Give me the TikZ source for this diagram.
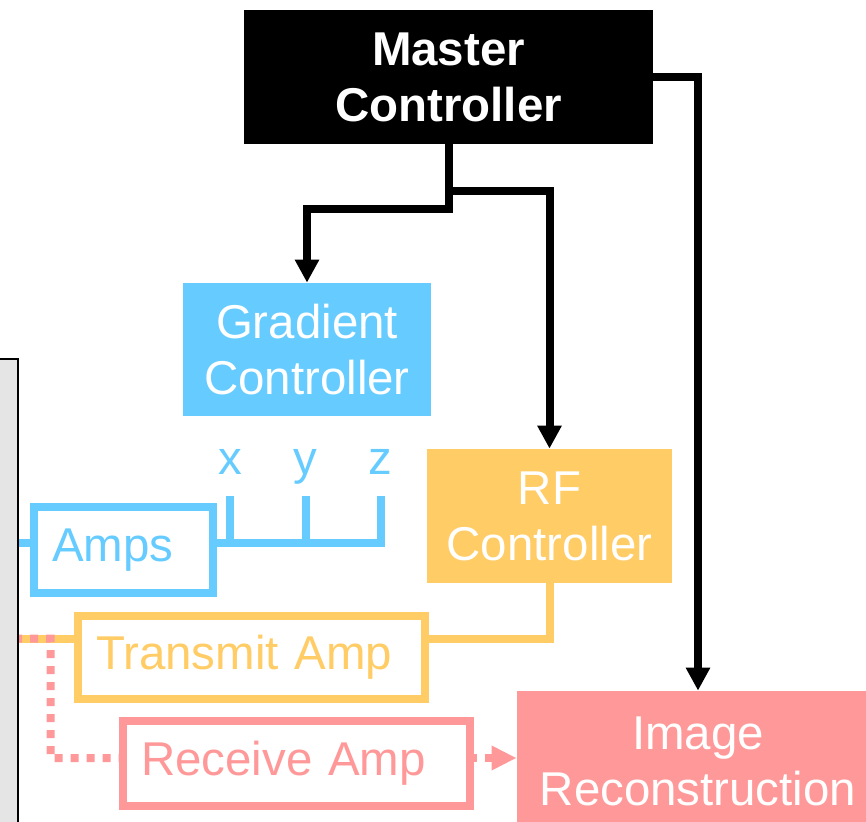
\documentclass[tikz,border=0pt]{standalone}
\usepackage{fontspec}
\setmainfont{Liberation Sans}
\definecolor{GradBlue}{RGB}{102, 204, 255}
\definecolor{RFOrange}{RGB}{255, 204, 102}
\definecolor{ReconPink}{RGB}{255, 153, 153}
\definecolor{ScannerGray}{RGB}{229, 229, 229}
\usetikzlibrary{arrows.meta, positioning, calc}

\begin{document}
\begin{tikzpicture}[
    font=\fontsize{27}{31.9}\selectfont,
    solidbox/.style={minimum width=#1, minimum height=2.68cm, inner sep=0pt, align=center, text=white},
    ampbox/.style={draw=#1, text=#1, fill=white, line width=0.16cm, align=left, inner xsep=0.36cm, inner ysep=0pt},
    axlabel/.style={text=GradBlue, inner sep=0pt, anchor=base},
    ctrlarrow/.style={draw=black, line width=0.16cm, -{Triangle[length=0.46cm, width=0.46cm]}},
    gradline/.style={draw=GradBlue, line width=0.16cm},
    txline/.style={draw=RFOrange, line width=0.16cm},
    rxline/.style={draw=ReconPink, line width=0.16cm, dash pattern=on 0.16cm off 0.16cm, dash phase=0.1cm}
  ]
  \useasboundingbox (0,0) rectangle (17.32,16.42);
  \clip (0,0) rectangle (17.32,16.42);

  % scanner wall on the left
  \node[draw=black, fill=ScannerGray, line width=0.04cm, minimum width=2cm, minimum height=10cm,
        inner sep=0pt, anchor=north east] (scanner) at (0.38, 9.26) {};

  % controllers
  \node[solidbox=8.18cm, fill=black, font=\fontsize{27}{31.9}\selectfont\bfseries] (master) at (8.97, 14.88) {Master\\Controller};
  \node[solidbox=4.96cm, minimum height=2.66cm, fill=GradBlue] (grad) at (6.14, 9.43) {Gradient\\Controller};
  \node[solidbox=4.9cm, fill=RFOrange] (rf) at (10.99, 6.10) {RF\\Controller};
  \node[solidbox=7.24cm, minimum height=2.8cm, fill=ReconPink] (recon) at (13.96, 1.2) {Image\\Reconstruction};

  % amplifiers
  \node[ampbox=GradBlue, text width=2.86cm, minimum height=1.72cm] (amps) at (2.47, 5.42) {Amps};
  \node[ampbox=RFOrange, text width=6.22cm, minimum height=1.66cm] (tx) at (5.03, 3.27) {Transmit Amp};
  \node[ampbox=ReconPink, text width=6.22cm, minimum height=1.7cm] (rx) at (5.93, 1.15) {Receive Amp};

  \coordinate (ampsin) at ([yshift=0.14cm]amps.west);
  \coordinate (ampsout) at ([yshift=0.14cm]amps.east);
  \coordinate (txin) at ([yshift=0.38cm]tx.west);
  \coordinate (txout) at ([yshift=0.38cm]tx.east);
  \coordinate (rxin) at ([yshift=0.11cm]rx.west);
  \coordinate (rxout) at ([yshift=0.11cm]rx.east);
  \coordinate (rxbend) at (1.01, 1.26);

  % gradient axes
  \foreach \ax/\axx in {x/4.60, y/6.11, z/7.61} {
    \node[axlabel] (l\ax) at (\axx, 6.92) {\ax};
    \coordinate (t\ax) at (\axx, 6.5);
  }
  \draw[gradline] (ampsin) -- (ampsin -| scanner.east);
  \draw[gradline] (ampsout) -| (tz);
  \foreach \ax in {x, y}
    \draw[gradline] (t\ax) -- (t\ax |- ampsout);

  % transmit and receive
  \draw[txline] (txin) -- (txin -| scanner.east);
  \draw[txline] (txout) -| (rf.south);
  \draw[rxline] (txin -| scanner.east) -| (rxbend) -- (rxin);
  \draw[rxline, -{Triangle[length=0.5cm, width=0.46cm]}] (rxout) -- (rxout -| recon.west);

  % master controller outputs
  \draw[ctrlarrow] (master.south) -- ++(0,-1.3) -| (grad.north);
  \draw[ctrlarrow] (master.south) -- ++(0,-0.94) -| (rf.north);
  \draw[ctrlarrow] (master.east) -| (recon.north);
\end{tikzpicture}
\end{document}
